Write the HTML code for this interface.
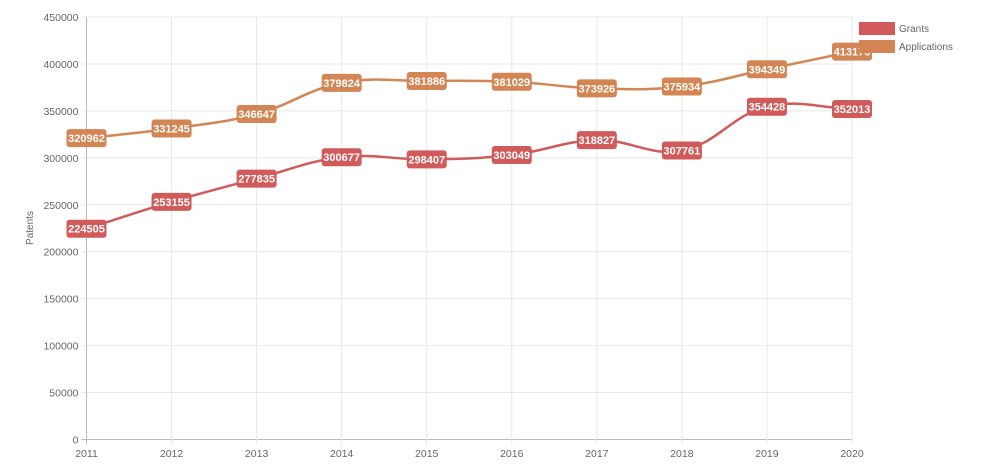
<!DOCTYPE html>
<html><head><meta charset="utf-8"><style>
html,body{margin:0;padding:0;background:#fff;}
svg{display:block;font-family:"Liberation Sans",Arial,sans-serif;}
</style></head><body>
<svg id="chart" width="982" height="468"></svg>
<script>
const years=["2011","2012","2013","2014","2015","2016","2017","2018","2019","2020"];
const grants=[224505,253155,277835,300677,298407,303049,318827,307761,354428,352013];
const applications=[320962,331245,346647,379824,381886,381029,373926,375934,394349,413176];
const yTicks=[0,50000,100000,150000,200000,250000,300000,350000,400000,450000];
const NS="http://www.w3.org/2000/svg";
const svg=document.getElementById('chart');
const X0=86.5,X1=852,Y0=439.5,Y1=17,YMAX=450000;
const xs=i=>X0+(X1-X0)*i/(years.length-1);
const ys=v=>Y0-(Y0-Y1)*v/YMAX;
function mk(t,a,p){const e=document.createElementNS(NS,t);for(const k in a)e.setAttribute(k,a[k]);(p||svg).appendChild(e);return e;}
// grid
yTicks.forEach(v=>{
  const l=mk('line',{x1:X0-5,x2:X1,y1:ys(v),y2:ys(v),stroke:v===0?'#bbb':'#e8e8e8','stroke-width':1});
  
  
  const t=mk('text',{x:X0-8,y:ys(v)+4,'text-anchor':'end','font-size':10.5,fill:'#666'});
  t.textContent=v;
  
  
});
years.forEach((y,i)=>{
  const l=mk('line',{x1:xs(i),x2:xs(i),y1:Y1,y2:Y0+5,stroke:i===0?'#bbb':'#e8e8e8','stroke-width':1});
  
  
  const t=mk('text',{x:xs(i),y:457,'text-anchor':'middle','font-size':10.5,fill:'#666'});
  t.textContent=y;
  
  
});
const yt=mk('text',{x:0,y:0,transform:'translate(33,228) rotate(-90)','text-anchor':'middle','font-size':10,fill:'#666'});
yt.textContent='Patents';


function path(vals){
  const p=vals.map((v,i)=>[xs(i),ys(v)]);const T=0.4;
  let d='M'+p[0][0]+','+p[0][1];
  const cps=p.map((c,i)=>{
    const pr=p[Math.max(i-1,0)],nx=p[Math.min(i+1,p.length-1)];
    const d01=Math.hypot(c[0]-pr[0],c[1]-pr[1]),d12=Math.hypot(nx[0]-c[0],nx[1]-c[1]);
    let fa=d01/(d01+d12)||0,fb=d12/(d01+d12)||0;fa*=T;fb*=T;
    return{p:[c[0]-fa*(nx[0]-pr[0]),c[1]-fa*(nx[1]-pr[1])],n:[c[0]+fb*(nx[0]-pr[0]),c[1]+fb*(nx[1]-pr[1])]};
  });
  for(let i=1;i<p.length;i++)d+=` C${cps[i-1].n[0]},${cps[i-1].n[1]} ${cps[i].p[0]},${cps[i].p[1]} ${p[i][0]},${p[i][1]}`;
  return d;
}
function series(vals,color,name){
  const pa=mk('path',{d:path(vals),fill:'none',stroke:color,'stroke-width':2.5});
  
  
  vals.forEach((v,i)=>{
    const g=mk('g',{});
    
    
    mk('rect',{x:xs(i)-20,y:ys(v)-9,width:40,height:18,rx:3,fill:color},g);
    const t=mk('text',{x:xs(i),y:ys(v)+4,'text-anchor':'middle','font-size':11,'font-weight':'bold',fill:'#fff'},g);
    t.textContent=v;
  });
}
series(applications,'#d38553','applications');
series(grants,'#d15a5a','grants');
// legend
[['Grants','#d15a5a',22],['Applications','#d38553',40]].forEach(([n,c,y])=>{
  const g=mk('g',{});
  
  
  mk('rect',{x:859,y:y,width:36,height:13,fill:c},g);
  const t=mk('text',{x:899,y:y+10,'font-size':10,fill:'#666'},g);t.textContent=n;
});
</script>
</body></html>
